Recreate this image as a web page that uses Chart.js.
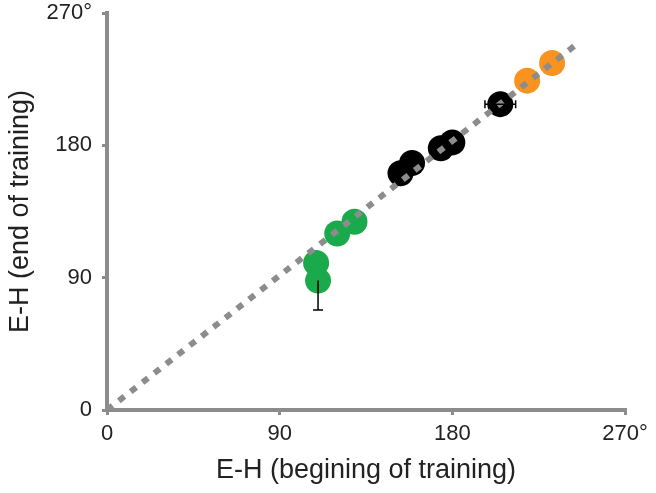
<!DOCTYPE html>
<html>
<head>
<meta charset="utf-8">
<script src="https://cdn.jsdelivr.net/npm/chart.js@4"></script>
<style>
  html, body { margin: 0; padding: 0; background: #fff; }
  #wrap { width: 656px; height: 493px; position: relative; }
</style>
</head>
<body>
<div id="wrap"><canvas id="chart"></canvas></div>
<script>
// Values (degrees)
const greenX = [110, 109, 120, 129];
const greenY = [88, 100, 120, 128];
const blackX = [153, 159, 174, 180, 205];
const blackY = [161, 168, 178, 182, 208];
const orangeX = [219, 232];
const orangeY = [224, 236];

// diagonal reference line (start / end)
const diagX = [0, 246];
const diagY = [0, 250];

// error bars: [series, index, axis, low, high]
const errorBars = [
  ['green', 0, 'y', 68, 88],
  ['black', 4, 'x', 197, 213]
];

const tickValues = [0, 90, 180, 270];

const AXIS = '#8c8c8c';
const TEXT = '#222';

const toPts = (xs, ys) => xs.map((x, i) => ({ x: x, y: ys[i] }));
const series = {
  green: toPts(greenX, greenY),
  black: toPts(blackX, blackY),
  orange: toPts(orangeX, orangeY)
};

// Draw error bars with caps
const errorBarPlugin = {
  id: 'errorBars',
  afterDatasetsDraw: (chart) => {
    const { ctx, scales } = chart;
    const xs = scales.x, ys = scales.y;
    ctx.save();
    ctx.strokeStyle = '#000';
    ctx.lineWidth = 1.5;
    errorBars.forEach(([name, idx, axis, lo, hi]) => {
      const p = series[name][idx];
      ctx.beginPath();
      if (axis === 'y') {
        const px = xs.getPixelForValue(p.x);
        const y1 = ys.getPixelForValue(lo), y2 = ys.getPixelForValue(hi);
        ctx.moveTo(px, y1); ctx.lineTo(px, y2);
        ctx.moveTo(px - 5, y1); ctx.lineTo(px + 5, y1);
      } else {
        const py = ys.getPixelForValue(p.y);
        const x1 = xs.getPixelForValue(lo), x2 = xs.getPixelForValue(hi);
        ctx.moveTo(x1, py); ctx.lineTo(x2, py);
        ctx.moveTo(x1, py - 4); ctx.lineTo(x1, py + 4);
        ctx.moveTo(x2, py - 4); ctx.lineTo(x2, py + 4);
      }
      ctx.stroke();
    });
    ctx.restore();
  }
};

const axisCommon = {
  type: 'linear',
  min: 0,
  max: 270,
  afterBuildTicks: (s) => { s.ticks = tickValues.map(v => ({ value: v })); },
  grid: { drawOnChartArea: false, drawTicks: true, tickLength: 5, color: AXIS, lineWidth: 3 },
  border: { color: AXIS, width: 4 }
};

new Chart(document.getElementById('chart'), {
  type: 'scatter',
  plugins: [errorBarPlugin],
  data: {
    datasets: [
      {
        type: 'line',
        label: 'diagonal',
        data: toPts(diagX, diagY),
        borderColor: AXIS,
        borderWidth: 6,
        borderDash: [7, 8],
        borderCapStyle: 'butt',
        pointRadius: 0,
        fill: false
      },
      {
        label: 'black',
        data: series.black,
        backgroundColor: '#000',
        borderWidth: 0,
        pointRadius: 13
      },
      {
        label: 'orange',
        data: series.orange,
        backgroundColor: '#f7931e',
        borderWidth: 0,
        pointRadius: 13
      },
      {
        label: 'green',
        data: series.green,
        backgroundColor: '#1aa94b',
        borderWidth: 0,
        pointRadius: 13
      }
    ]
  },
  options: {
    responsive: true,
    maintainAspectRatio: false,
    animation: false,
    layout: { padding: { left: 4, right: 31, top: 11, bottom: 6 } },
    plugins: {
      legend: { display: false },
      tooltip: { enabled: false }
    },
    scales: {
      x: {
        ...axisCommon,
        afterFit: (s) => { s.height = 77; s.paddingRight = 0; s.paddingLeft = 0; },
        ticks: {
          color: TEXT,
          padding: 6,
          maxRotation: 0,
          font: { family: 'Liberation Sans', size: 22 },
          callback: (v) => v === 270 ? '270°' : v
        },
        title: {
          display: true,
          text: 'E-H (begining of training)',
          color: TEXT,
          padding: 0,
          font: { family: 'Liberation Sans', size: 27 }
        }
      },
      y: {
        ...axisCommon,
        afterFit: (s) => { s.width = 103; s.paddingTop = 0; s.paddingBottom = 0; },
        ticks: {
          color: TEXT,
          padding: 10,
          font: { family: 'Liberation Sans', size: 22 },
          callback: (v) => v === 270 ? '270°' : v
        },
        title: {
          display: true,
          text: 'E-H (end of training)',
          color: TEXT,
          padding: 0,
          font: { family: 'Liberation Sans', size: 27 }
        }
      }
    }
  }
});
</script>
</body>
</html>
